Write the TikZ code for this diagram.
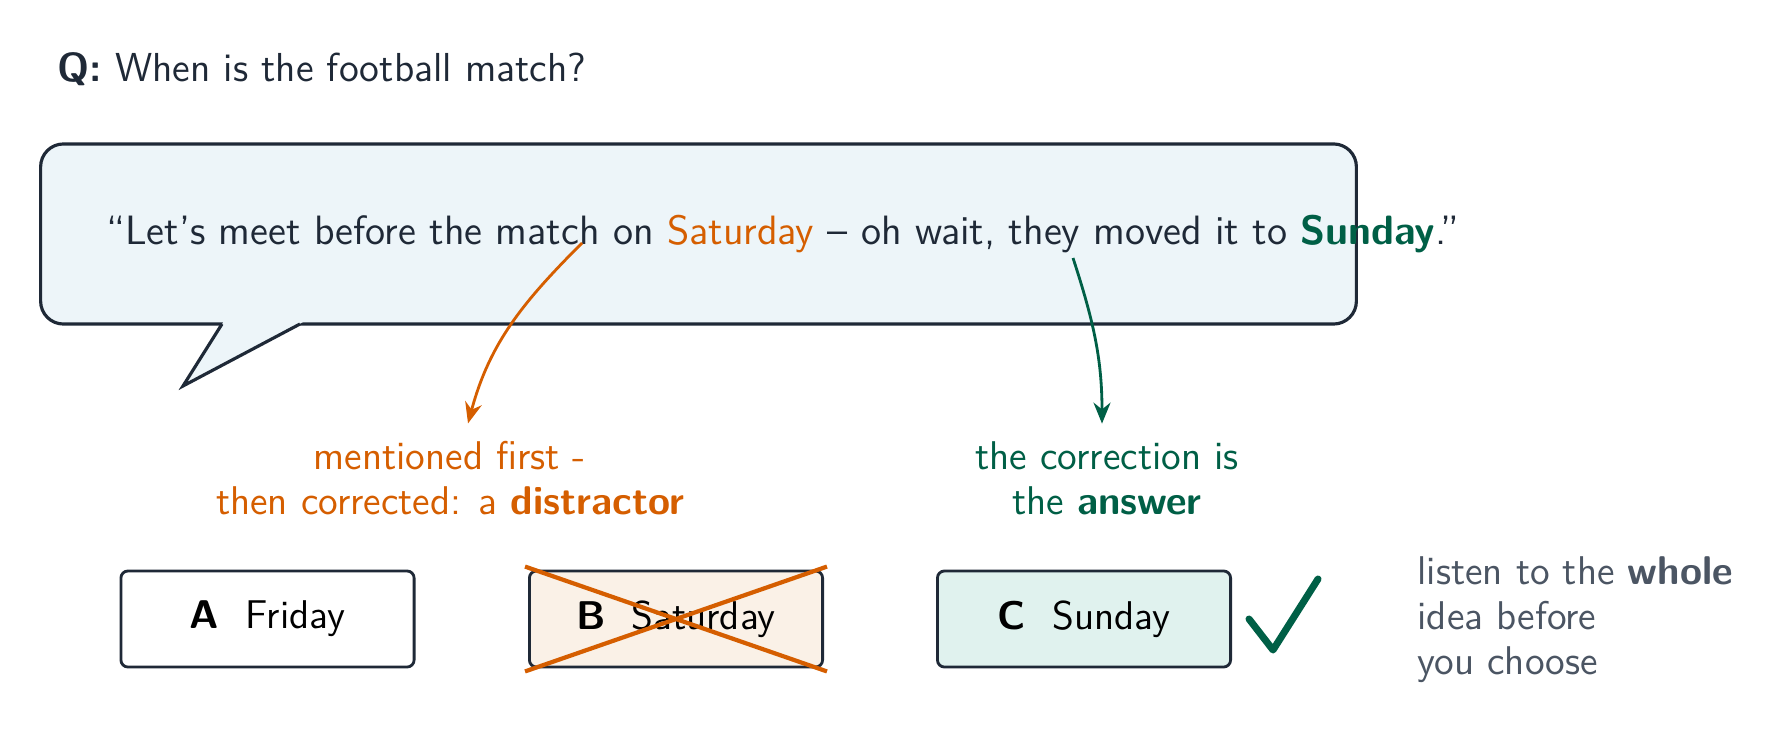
\documentclass[tikz,border=0pt]{standalone}
\usepackage{fontspec}
\usepackage{tikz}
\usetikzlibrary{arrows.meta,positioning,calc}
\renewcommand{\familydefault}{\sfdefault}
\definecolor{ink}{HTML}{1F2937}
\definecolor{warn}{HTML}{D55E00}
\definecolor{good}{HTML}{005F46}
\definecolor{hint}{HTML}{4B5563}
\definecolor{bubblefill}{HTML}{EDF5F9}
\definecolor{wrongfill}{HTML}{FAF1E7}
\definecolor{rightfill}{HTML}{E0F2EE}
\newcommand{\bodysize}{\fontsize{11.4}{12.8}\selectfont}
\newcommand{\quotesize}{\fontsize{11.65}{14}\selectfont}
\tikzset{
  bubble/.style={draw=ink, fill=bubblefill, line width=0.9pt, rounded corners=6.5pt, minimum width=13.15cm, minimum height=1.8cm},
  optbox/.style={draw=ink, line width=0.8pt, rounded corners=2pt, minimum width=2.93cm, minimum height=0.96cm, align=center, text=black, font=\bodysize},
  optno/.style={optbox, fill=wrongfill},
  optyes/.style={optbox, fill=rightfill},
  note/.style={align=center, font=\bodysize, inner sep=2pt},
  arr/.style={-{Stealth[length=2.1mm,width=1.7mm]}, line width=0.8pt},
  cross/.style={draw=warn, line width=1.2pt},
  tick/.style={draw=good, line width=2pt, line cap=round, line join=round}
}

\begin{document}
\begin{tikzpicture}[x=0.01cm, y=-0.01cm]
\useasboundingbox (0,0) rectangle (1789,737);
% question
\node[anchor=base west, inner sep=0pt, text=ink, font=\fontsize{11.5}{14}\selectfont] (quest) at (57,82) {\textbf{Q:} When is the football match?};
% speech bubble
\node[bubble] (bubble) at (698.5,234) {};
\fill[bubblefill] (224,321) -- (183,386) -- (305,321) -- cycle;
\draw[ink, line width=0.9pt] (222,324) -- (183,386) -- (300,324);
\node[inner sep=0pt, text=ink, font=\quotesize] (quote) at (783,234)
  {``Let's meet before the match on \textcolor{warn}{Saturday} -- oh wait, they moved it to \textcolor{good}{\textbf{Sunday}}.''};
\coordinate (satpt) at (582,243);
\coordinate (sunpt) at (1073,258);
% notes
\node[note, text=warn] (distr) at (450,478) {mentioned first -\\then corrected: a \textbf{distractor}};
\node[note, text=good] (answ) at (1107,478) {the correction is\\the \textbf{answer}};
\draw[arr, warn] (satpt) to[out=-135, in=75] ([xshift=0.18cm, yshift=0.1cm]distr.north);
\draw[arr, good] (sunpt) to[out=-72, in=90] ([xshift=-0.05cm, yshift=0.1cm]answ.north);
% options
\node[optbox] (opta) at (267.5,619) {\textbf{A}\hspace{0.65em}Friday};
\node[optno] (optb) at (676,619) {\textbf{B}\hspace{0.65em}Saturday};
\node[optyes] (optc) at (1084,619) {\textbf{C}\hspace{0.65em}Sunday};
\draw[cross] ($(optb.south west)+(-3,3)$) -- ($(optb.north east)+(3,-3)$);
\draw[cross] ($(optb.north west)+(-3,-3)$) -- ($(optb.south east)+(3,3)$);
\draw[tick] ($(optc.east)+(17,0)$) -- ++(24,31) -- ++(45,-71);
\node[anchor=west, align=left, text=hint, font=\bodysize, inner sep=0pt] (tip) at (1417,620)
  {listen to the \textbf{whole}\\idea before\\you choose};
\end{tikzpicture}
\end{document}
